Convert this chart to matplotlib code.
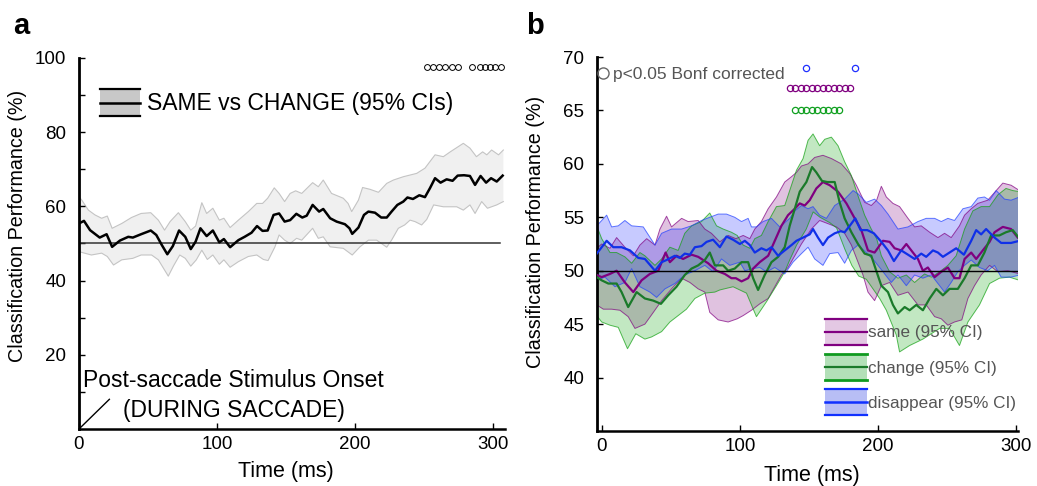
import numpy as np
import matplotlib
matplotlib.use("Agg")
import matplotlib.pyplot as plt
from matplotlib.patches import Rectangle, Patch
from matplotlib.lines import Line2D
from matplotlib.legend_handler import HandlerBase

plt.rcParams['font.family'] = ['Liberation Sans', 'DejaVu Sans']

# ---------------- Panel a data ----------------
ta_mean = [0, 3.6, 8, 15, 20, 24, 29.7, 35.7, 39, 45, 52, 56, 60, 64, 68, 72.5, 77, 81, 84.5, 88, 92.5, 97,
           101.7, 105, 109.5, 115.5, 120, 125, 129, 133, 136.7, 141, 145, 149, 153, 157.5, 161.8, 165, 169.3,
           174, 177, 182, 186.7, 192.7, 196, 198, 202.5, 206.5, 209.7, 214.5, 219, 223, 226.5, 230.7, 235,
           238, 242, 246.6, 250.7, 254.3, 258, 262, 266.4, 270.7, 274.4, 279, 283.3, 287, 291, 295, 298.6,
           302.7, 307]
va_mean = [55.4, 56.1, 53.6, 51.6, 52.5, 49.1, 50.8, 51.8, 51.6, 52.5, 53.5, 52.3, 49.6, 47.1, 49.3, 53.5,
           51.8, 48.5, 50.5, 54.1, 52.0, 53.5, 50.3, 51.2, 49.0, 50.9, 51.8, 52.9, 54.7, 53.4, 53.5, 57.7,
           58.1, 55.9, 56.3, 58.0, 57.0, 57.5, 60.4, 58.6, 59.3, 56.8, 55.9, 55.2, 54.1, 52.6, 54.3, 57.7,
           58.6, 58.3, 57.0, 57.0, 58.6, 60.4, 61.3, 62.4, 62.0, 63.0, 62.5, 64.9, 67.6, 66.4, 67.3, 66.9,
           68.3, 68.4, 68.2, 65.8, 68.2, 66.4, 67.6, 66.7, 68.3]

ta_up = [0, 2, 6.8, 11.6, 16.4, 20.5, 24, 31, 38, 45, 52, 57.5, 62, 66, 72, 77, 81, 84.5, 89, 92.5, 97,
         101.7, 105, 109.5, 115.5, 122.7, 128.8, 133, 136.7, 141.5, 145, 149, 153, 157, 161.4, 169.3,
         173.4, 177, 183, 191.5, 195, 197.6, 202.5, 205.5, 210.9, 217, 223, 227.8, 235, 244.7, 250.7,
         258, 264, 269, 278.5, 283.3, 288, 292.5, 295.5, 299, 304, 307.5]
va_up = [62.6, 61.7, 59.0, 57.7, 56.8, 57.4, 54.1, 55.4, 57.0, 58.1, 58.3, 56.3, 53.6, 55.9, 58.3, 55.9,
         53.6, 54.7, 61.0, 58.1, 59.5, 56.3, 56.8, 54.3, 56.3, 58.6, 60.8, 60.8, 62.2, 65.0, 63.5, 61.3,
         63.5, 64.2, 63.5, 66.4, 65.3, 67.1, 63.5, 62.2, 60.8, 58.6, 61.7, 65.1, 64.6, 63.8, 66.2, 67.1,
         68.0, 68.9, 70.3, 73.9, 73.4, 74.7, 77.0, 75.7, 73.4, 74.7, 73.9, 75.2, 73.9, 75.2]

ta_lo = [0, 9, 16.4, 20.5, 25, 31, 39, 45, 52.6, 57.5, 64.7, 68.4, 73, 77, 81, 85, 89, 93, 97, 101.7, 105,
         109.5, 115.5, 122.7, 128.8, 133.6, 137, 142, 145, 149, 153, 157.7, 161.4, 169.3, 173.4, 177, 182,
         191.5, 198, 203.6, 209.7, 215.7, 223, 226.5, 231.4, 236, 239.9, 243.5, 248.3, 252, 257, 264,
         273.7, 278.5, 283.3, 287, 291.8, 296, 302.7, 307.5]
va_lo = [47.8, 46.9, 47.4, 46.5, 44.2, 45.6, 46.0, 46.9, 46.9, 45.6, 41.2, 43.9, 46.9, 46.0, 43.9, 45.6,
         48.2, 45.7, 46.9, 44.4, 45.6, 43.6, 45.1, 46.5, 46.9, 45.7, 45.4, 49.1, 52.3, 50.9, 50.0, 51.4,
         50.9, 54.1, 51.4, 51.8, 49.1, 48.7, 46.9, 49.1, 50.9, 50.9, 49.0, 50.9, 54.1, 55.0, 56.3, 55.9,
         55.0, 56.5, 60.4, 59.9, 59.9, 59.0, 60.4, 58.1, 61.3, 59.5, 60.4, 61.3]

sig_a_t = [252, 256.5, 261, 265.5, 270, 274.5, 285, 290.5, 294.3, 298, 301.8, 305.5]
sig_a_level = 97.6
chance = 50

# ---------------- Panel b data ----------------
tb_same = [-3.8, -0.2, 5.8, 10.6, 16.6, 22.7, 28.7, 34.7, 40.8, 46.1, 49.2, 54, 58.8, 64.9, 69.7, 76.9, 83,
           89, 93.8, 97, 101.1, 105.9, 109.5, 114.3, 120.4, 125.2, 130, 134.8, 139.7, 143.3, 146.9, 150.5,
           155.3, 160.1, 165, 171, 177.1, 183.1, 187.9, 192.7, 197.5, 203.6, 208.4, 212, 216.8, 220.5,
           225.3, 228.9, 232.5, 236.1, 241, 245.8, 250.6, 255.4, 259, 262.7, 267.5, 271.1, 275.9, 280.8,
           284.4, 290.4, 296.4, 301.2]
vb_same = [49.6, 49.4, 49.7, 50.0, 48.9, 48.0, 49.1, 49.7, 50.0, 51.7, 50.8, 51.4, 51.1, 51.5, 51.3, 50.7,
           50.0, 49.7, 49.3, 49.3, 49.0, 49.3, 50.2, 50.8, 51.4, 52.8, 54.2, 55.2, 55.8, 56.3, 56.1, 56.6,
           57.7, 58.3, 58.0, 57.4, 56.3, 54.9, 53.8, 51.9, 51.7, 52.8, 52.7, 52.1, 51.9, 52.5, 51.7, 51.1,
           50.0, 50.3, 49.4, 49.9, 50.3, 49.3, 49.3, 51.1, 51.7, 51.1, 51.9, 52.7, 53.6, 54.1, 53.9, 53.1]

tb_same_up = [-3.8, -0.2, 5.8, 10.6, 16.6, 22.7, 27.5, 32.4, 38.4, 42, 46.8, 50.4, 57.7, 62.4, 69.7, 74.5,
              79.3, 85.4, 91.4, 97, 102.3, 107.1, 110.7, 115.5, 120.4, 126.4, 132.4, 137.3, 140.9, 144.5,
              149.3, 154.1, 160.1, 166.2, 173.4, 179.5, 184.3, 190.3, 195.1, 199, 202.4, 206, 210.8, 215.6,
              221.7, 226.5, 231.3, 237.4, 243.4, 248.2, 253, 259, 262.7, 267.5, 272.3, 279.5, 285.6, 290.4,
              296.4, 302.5]
vb_same_up = [52.1, 52.5, 52.1, 53.1, 52.2, 51.4, 52.4, 53.0, 52.4, 53.9, 55.1, 54.1, 54.9, 54.6, 54.7,
              53.9, 53.5, 52.7, 53.3, 53.0, 53.3, 53.0, 53.9, 54.6, 55.8, 56.9, 58.3, 58.8, 59.2, 59.8,
              60.0, 60.6, 60.8, 60.5, 60.0, 59.1, 58.0, 56.4, 56.1, 56.6, 57.9, 56.9, 56.3, 56.0, 54.9,
              54.1, 54.2, 53.6, 53.1, 53.5, 53.1, 54.2, 55.2, 55.8, 56.3, 56.6, 57.5, 58.2, 58.0, 57.5]

tb_same_lo = [-3.8, 1, 7, 13, 19, 23.9, 31.1, 37.2, 43.2, 50.4, 57.7, 63.7, 69.7, 74.5, 78.1, 84.2, 91.4,
              98, 102.3, 108.3, 114.3, 120.4, 125.2, 130, 134.8, 139.7, 144.5, 151.7, 157.7, 163.8, 169.8,
              175.8, 180.7, 185.5, 189.1, 192.7, 197.5, 202.4, 208.4, 214.4, 221.7, 228.9, 234.9, 241,
              245.8, 250.6, 255.4, 260.7, 265.1, 269.9, 274.7, 280.8, 286.8, 294, 302.5]
vb_same_lo = [46.8, 46.4, 46.4, 46.3, 45.7, 44.6, 45.0, 46.1, 47.2, 48.3, 49.3, 48.9, 48.3, 48.0, 46.1,
              45.4, 45.2, 45.5, 45.8, 46.3, 46.9, 47.4, 48.5, 49.6, 50.3, 51.4, 52.5, 53.9, 54.7, 54.4,
              54.1, 53.5, 52.4, 50.8, 49.6, 48.0, 47.2, 48.6, 48.9, 47.7, 48.0, 46.8, 46.8, 45.7, 45.5,
              44.9, 45.2, 45.4, 47.4, 48.6, 49.6, 50.5, 49.9, 50.0, 49.7]

tb_change = [-3.8, -0.2, 4.6, 10.6, 14.2, 19, 25.1, 31.1, 37.2, 42.7, 48, 54, 60, 64.9, 69.7, 74.5, 78.1,
             81.8, 87.8, 91.4, 96.2, 101.1, 105.9, 109.5, 113.1, 117.9, 122.8, 127.6, 132.4, 136, 139.7,
             143.3, 148.1, 152.2, 155.3, 159.4, 163.3, 168.6, 172.2, 175.8, 180.7, 185.5, 190.3, 195.1,
             198.7, 202.4, 207.2, 210.8, 214.4, 219.3, 222.9, 227.7, 232.5, 237.4, 242.2, 247, 251.8,
             257.8, 262.7, 267.5, 272.3, 277.1, 281.9, 287.9, 292.7, 297.6, 302.5]
vb_change = [49.4, 49.1, 48.8, 48.8, 48.0, 46.6, 48.0, 47.4, 47.2, 46.9, 47.7, 48.5, 49.6, 50.2, 50.5,
             51.0, 51.7, 50.5, 50.5, 50.0, 50.2, 50.8, 50.8, 49.3, 48.2, 49.6, 50.8, 51.3, 52.2, 54.2,
             55.8, 57.4, 58.3, 59.7, 59.2, 58.4, 58.3, 58.3, 56.4, 54.9, 53.6, 52.5, 51.6, 51.4, 50.0,
             48.6, 48.0, 46.8, 46.0, 46.6, 46.3, 46.8, 46.3, 47.4, 48.3, 47.7, 48.3, 48.3, 49.3, 50.5,
             50.5, 51.7, 53.3, 53.3, 53.6, 53.8, 53.0]

tb_change_up = [-3.8, -0.2, 5.8, 10.6, 16.6, 21.5, 27.5, 31.1, 38.4, 43.2, 49.2, 55.2, 60, 64.9, 72.1,
                78.1, 83, 87.8, 93.8, 98, 102.3, 107.1, 110.7, 115.5, 120.4, 126.4, 132.4, 136, 140.9,
                145.7, 149.3, 152.9, 157.7, 161.4, 166.2, 171, 175.8, 180.7, 185.5, 190.3, 195.1, 199,
                202.4, 208.4, 214.4, 220.5, 226.5, 233.7, 238.6, 244.6, 250.6, 256.6, 262.7, 268.7,
                274.7, 280.8, 286.8, 292.7, 297.6, 302.5]
vb_change_up = [54.2, 53.0, 51.7, 51.7, 51.3, 50.7, 51.7, 51.4, 50.5, 51.1, 52.2, 51.9, 53.5, 54.2, 54.6,
                55.4, 54.2, 53.9, 53.6, 53.3, 52.4, 52.1, 53.0, 53.3, 54.6, 56.0, 56.1, 57.5, 59.4, 60.5,
                62.2, 62.8, 61.7, 62.3, 62.5, 61.7, 60.2, 58.9, 57.0, 55.2, 53.9, 53.0, 51.4, 49.9, 49.3,
                49.6, 48.9, 49.7, 49.4, 49.9, 50.5, 51.4, 53.9, 55.6, 56.0, 56.0, 57.1, 57.7, 57.5, 57.4]

tb_change_lo = [-3.8, -0.2, 5.8, 11.8, 18.5, 24.5, 31.1, 35.9, 43.2, 49.2, 55.2, 61.2, 67.3, 74.5, 81.8,
                85.4, 95, 104.7, 111.9, 119.2, 126.4, 132.4, 136, 141, 148, 153, 158, 165, 170, 176, 181,
                186, 191.5, 201.2, 206, 213.2, 215.6, 222.9, 232.5, 244.6, 251.8, 259, 265.1, 273.5,
                280.8, 288, 295.2, 302.5]
vb_change_lo = [45.8, 45.2, 44.9, 44.7, 42.7, 44.1, 43.6, 43.8, 44.3, 45.2, 45.8, 46.4, 47.4, 47.9, 48.0,
                48.2, 48.5, 47.9, 45.7, 47.1, 48.6, 49.9, 51.0, 52.4, 53.9, 55.5, 55.0, 54.5, 54.0, 52.0,
                50.5, 49.5, 49.2, 47.4, 46.3, 44.0, 42.4, 43.0, 43.6, 44.6, 44.6, 43.0, 45.2, 46.8, 48.8,
                49.3, 49.4, 49.1]

tb_dis = [-3.8, 3.4, 8.2, 14.2, 20.3, 26.3, 31.1, 38.4, 43.2, 46.8, 52.8, 56.4, 60, 63.7, 67.3, 72.1, 75.8,
          80.5, 85.4, 90.2, 95, 99.9, 103.5, 107.1, 110.7, 115.5, 119.2, 122.8, 127.6, 132.4, 137.3, 140.9,
          145.7, 150.5, 152.9, 156.5, 160.1, 163.8, 168.6, 172.9, 175.8, 179.5, 183.5, 187.4, 192.2, 197,
          202.4, 207.2, 211.5, 216.8, 221.7, 226.5, 231.3, 234.9, 239.8, 243.4, 247, 251.8, 256.6, 262.2,
          267.5, 271.1, 274.7, 278.3, 284.4, 289.2, 296.4, 302.5]
vb_dis = [51.6, 52.8, 52.2, 52.2, 51.9, 51.2, 51.1, 50.0, 50.8, 51.0, 51.4, 51.2, 51.6, 51.5, 52.2, 52.3,
          52.7, 52.9, 52.2, 53.2, 52.9, 52.5, 52.8, 52.4, 51.7, 52.1, 51.9, 52.2, 51.4, 51.9, 52.4, 52.8,
          53.1, 53.4, 53.9, 53.1, 52.4, 53.1, 53.5, 53.7, 53.6, 54.2, 54.9, 53.8, 53.8, 53.5, 52.7, 51.9,
          50.9, 51.9, 51.5, 51.1, 51.6, 51.3, 51.9, 51.7, 51.3, 51.7, 52.1, 51.5, 52.8, 53.8, 53.4, 53.9,
          53.1, 52.6, 52.6, 52.8]

tb_dis_up = [-3.8, 3.4, 7, 11.8, 16.6, 21.5, 29.9, 38.4, 43.2, 50.4, 57.7, 64.9, 72.1, 78.1, 84.2, 90.2,
             96.2, 101.1, 105.9, 108.3, 111.9, 116.7, 122.8, 128.8, 136, 139.7, 144.5, 149.3, 152.9,
             157.7, 162.6, 168.6, 175.8, 181.9, 185.5, 191.5, 197.5, 202.4, 207.2, 214.4, 221.7, 228.9,
             234.9, 241, 245.8, 250.6, 255.4, 261.5, 267.5, 272.3, 277.1, 280.8, 285.6, 291.6, 296.4, 302.5]
vb_dis_up = [54.2, 55.2, 54.1, 54.2, 54.7, 54.2, 54.1, 52.4, 53.5, 53.9, 53.9, 54.2, 54.7, 55.0, 55.3,
             55.3, 55.0, 54.6, 54.9, 54.1, 54.1, 54.6, 54.9, 54.1, 54.9, 55.6, 56.1, 55.8, 56.0, 55.2,
             54.9, 56.1, 56.7, 57.5, 57.2, 56.4, 56.7, 56.1, 55.3, 53.9, 54.1, 54.6, 54.9, 54.9, 54.6,
             54.9, 54.7, 55.8, 56.0, 56.8, 56.9, 56.6, 57.5, 56.7, 56.6, 56.9]

tb_dis_lo = [-3.8, 2.2, 9.4, 16.6, 21.5, 27.5, 34.7, 39.6, 45.6, 52.8, 60, 67.3, 74.5, 80.5, 86.6, 92.6,
             99.9, 103.5, 109.5, 114.3, 119.2, 125.2, 132.4, 138.4, 144.5, 149.3, 154.1, 160.1, 165, 171,
             175.8, 180.7, 185.5, 191.5, 197.5, 203.6, 209.6, 214.4, 220.5, 226.5, 232.5, 238.6, 244.6,
             248.2, 253, 257.8, 262.7, 267.5, 273.5, 279.5, 284.4, 289.2, 296.4, 302.5]
vb_dis_lo = [49.1, 49.4, 48.5, 48.9, 50.2, 48.5, 48.0, 47.5, 48.3, 48.8, 49.6, 50.0, 50.5, 49.9, 51.1,
             50.5, 50.8, 50.0, 50.2, 50.3, 49.9, 50.3, 49.7, 50.8, 51.6, 52.2, 51.1, 50.5, 51.6, 51.7,
             50.7, 51.9, 52.4, 51.7, 50.9, 49.9, 48.9, 49.6, 48.6, 49.6, 49.3, 49.6, 48.6, 48.0, 48.9,
             49.9, 50.5, 51.0, 50.3, 50.0, 50.5, 49.4, 49.4, 49.6]

sig_dis_t = [148, 183]
sig_same_t = [136, 140, 144, 148, 152, 156, 160, 164, 168, 172, 176, 180]
sig_change_t = [140, 144, 148, 152, 156, 160, 164, 168, 172]
sig_dis_level, sig_same_level, sig_change_level = 69.0, 67.1, 65.0

C_SAME = '#800080'
C_CHANGE_EDGE = '#10a010'
C_CHANGE = '#1a7a2a'
C_DIS = '#1030e8'
C_DIS_EDGE = '#2040ff'
TXT_GRAY = '#555555'


class BandHandler(HandlerBase):
    def __init__(self, fill, edge, mid, lw_edge=1.5, lw_mid=1.5):
        super().__init__()
        self.fill, self.edge, self.mid = fill, edge, mid
        self.lw_edge, self.lw_mid = lw_edge, lw_mid

    def create_artists(self, legend, orig_handle, xdescent, ydescent, width, height, fontsize, trans):
        x0, y0 = -xdescent, -ydescent
        arts = [Rectangle((x0, y0), width, height, facecolor=self.fill, edgecolor='none', transform=trans)]
        for y, c, lw in ((y0, self.edge, self.lw_edge), (y0 + height / 2, self.mid, self.lw_mid),
                         (y0 + height, self.edge, self.lw_edge)):
            arts.append(Line2D([x0, x0 + width], [y, y], color=c, lw=lw, transform=trans))
        return arts


def band(ax, t_up, v_up, t_lo, v_lo, fc, ec, alpha, lw=0.7, ealpha=0.7):
    xs = np.concatenate([t_up, t_lo[::-1]])
    ys = np.concatenate([v_up, v_lo[::-1]])
    ax.fill(xs, ys, facecolor=fc, alpha=alpha, edgecolor='none', zorder=1)
    ax.plot(t_up, v_up, color=ec, lw=lw, alpha=ealpha, zorder=1.5)
    ax.plot(t_lo, v_lo, color=ec, lw=lw, alpha=ealpha, zorder=1.5)


fig = plt.figure(figsize=(10.37, 4.86), dpi=100)
axa = fig.add_axes([79 / 1037, 57 / 486, 426 / 1037, 371 / 486])
axb = fig.add_axes([597 / 1037, 55 / 486, 421 / 1037, 374 / 486])

# ---------- Panel a ----------
band(axa, ta_up, va_up, ta_lo, va_lo, '#d4d4d4', '#c4c4c4', 0.35, lw=0.8, ealpha=1.0)
axa.plot(ta_mean, va_mean, color='black', lw=1.8, zorder=3)
axa.plot([0, 305], [chance, chance], color='#333333', lw=1.1, zorder=2.5)
axa.plot(sig_a_t, [sig_a_level] * len(sig_a_t), ls='none', marker='o', ms=4.2,
         mfc='none', mec='black', mew=0.7, zorder=4)
axa.plot([0, 22], [0, 8], color='black', lw=1.0)
axa.text(2.9, 11.3, 'Post-saccade Stimulus Onset', fontsize=16.5, ha='left', va='baseline')
axa.text(32, 3.2, '(DURING SACCADE)', fontsize=16.5, ha='left', va='baseline')

axa.set_xlim(0, 308.7)
axa.set_ylim(0, 100)
axa.set_xticks([0, 100, 200, 300])
axa.set_yticks([20, 40, 60, 80, 100])
axa.set_yticks([10, 30, 50, 70, 90], minor=True)

ha = Patch(label='SAME vs CHANGE (95% CIs)')
leg_a = axa.legend(handles=[ha], handler_map={ha: BandHandler('#c8c8c8', 'black', 'black', 1.6, 1.8)},
                   loc='upper left', bbox_to_anchor=(21 / 426, 1 - 31 / 371), frameon=False,
                   fontsize=16.5, handlelength=1.75, handleheight=1.45, handletextpad=0.3,
                   borderpad=0, borderaxespad=0)

# ---------- Panel b ----------
band(axb, tb_same_up, vb_same_up, tb_same_lo, vb_same_lo, C_SAME, C_SAME, 0.24)
band(axb, tb_change_up, vb_change_up, tb_change_lo, vb_change_lo, '#00a000', C_CHANGE_EDGE, 0.24)
band(axb, tb_dis_up, vb_dis_up, tb_dis_lo, vb_dis_lo, '#0010ff', C_DIS_EDGE, 0.22)
axb.plot(tb_same, vb_same, color=C_SAME, lw=1.6, zorder=3)
axb.plot(tb_change, vb_change, color=C_CHANGE, lw=1.6, zorder=3)
axb.plot(tb_dis, vb_dis, color=C_DIS, lw=1.6, zorder=3)
axb.plot([-3.8, 301.4], [chance, chance], color='black', lw=1.0, zorder=3.5)

axb.plot(sig_dis_t, [sig_dis_level] * len(sig_dis_t), ls='none', marker='o', ms=4.5,
         mfc='none', mec='#2030ff', mew=0.9, zorder=4)
axb.plot(sig_same_t, [sig_same_level] * len(sig_same_t), ls='none', marker='o', ms=4.5,
         mfc='none', mec=C_SAME, mew=0.9, zorder=4)
axb.plot(sig_change_t, [sig_change_level] * len(sig_change_t), ls='none', marker='o', ms=4.5,
         mfc='none', mec='#10a020', mew=0.9, zorder=4)

axb.set_xlim(-3.6, 301.4)
axb.set_ylim(35, 70)
axb.set_xticks([0, 100, 200, 300])
axb.set_yticks([40, 45, 50, 55, 60, 65, 70])

hs = Patch(label='same (95% CI)')
hc = Patch(label='change (95% CI)')
hd = Patch(label='disappear (95% CI)')
hmap = {hs: BandHandler('#e3c8e3', C_SAME, C_SAME, 1.6, 1.6),
        hc: BandHandler('#b3e0b8', '#109a20', C_CHANGE, 2.0, 1.6),
        hd: BandHandler('#b8bef5', '#1030ff', '#1030ff', 1.6, 1.8)}
leg_b = axb.legend(handles=[hs, hc, hd], handler_map=hmap, loc='upper left',
                   bbox_to_anchor=(228 / 421, 1 - 262 / 374), frameon=False, fontsize=12.3,
                   handlelength=2.45, handleheight=1.95, handletextpad=0.05, labelspacing=0.55,
                   borderpad=0, borderaxespad=0, labelcolor=TXT_GRAY)
axb.add_artist(leg_b)
hp = Line2D([], [], ls='none', marker='o', ms=8, mfc='none', mec='#666666', mew=1.0,
            label='p<0.05 Bonf corrected')
axb.legend(handles=[hp], loc='upper left', bbox_to_anchor=(0.0, 1 - 10 / 374), frameon=False,
           fontsize=12.5, handlelength=0.7, handletextpad=0.25, borderpad=0, borderaxespad=0,
           labelcolor=TXT_GRAY)

# ---------- styling ----------
for ax in (axa, axb):
    for s in ('top', 'right'):
        ax.spines[s].set_visible(False)
    ax.spines['left'].set_linewidth(2.0)
    ax.spines['bottom'].set_linewidth(1.8)
    ax.tick_params(which='both', direction='in', length=4, width=1.0, labelsize=13.5)
    ax.tick_params(axis='y', pad=9)
    ax.tick_params(axis='x', pad=5)
    ax.set_xlabel('Time (ms)', fontsize=15.5)
    ax.set_ylabel('Classification Performance (%)', fontsize=14.2)

axa.xaxis.set_label_coords(0.486, -0.085)
axb.xaxis.set_label_coords(0.511, -0.09)
axa.yaxis.set_label_coords(-0.122, 0.547)
axb.yaxis.set_label_coords(-0.1235, 0.532)

fig.text(13 / 1037, 1 - 34 / 486, 'a', fontsize=21, fontweight='bold', ha='left', va='baseline')
fig.text(526 / 1037, 1 - 34 / 486, 'b', fontsize=21, fontweight='bold', ha='left', va='baseline')

fig.savefig('out.png', dpi=100)
